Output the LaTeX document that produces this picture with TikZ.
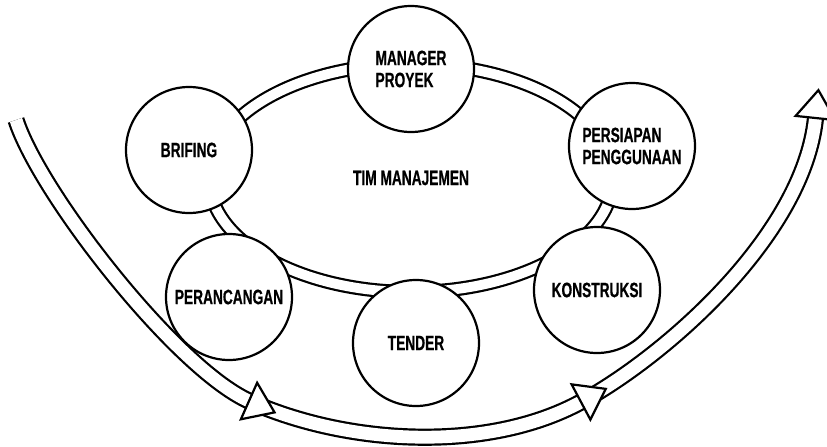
\documentclass[tikz,border=0pt]{standalone}
\usepackage{fontspec}
\newfontfamily\labelfont[FakeStretch=0.66,FakeBold=0.6]{Liberation Sans}
\usetikzlibrary{shapes.geometric}

\begin{document}
\begin{tikzpicture}
[x=0.5pt, y=-0.5pt,
  stageDecorate/.style={shape=circle,draw,fill=white,line width=1.1pt,minimum size=63pt,inner sep=0pt,align=left},%
  ringDecorate/.style={shape=ellipse,draw,line width=1.1pt,double,double distance=4.9pt,minimum width=202pt,minimum height=114pt},%
  bandDecorate/.style={draw,line width=1.1pt,double,double distance=6.4pt},%
  headDecorate/.style={draw,fill=white,line width=1.1pt},%
  font={\labelfont\bfseries\fontsize{10.4}{11}\selectfont}]
\useasboundingbox (0,0) rectangle (827,446);
%% management team ring
\node[ringDecorate] (team) at (411,178) {TIM MANAJEMEN};
%% stages round the ring
\foreach \nodename/\x/\y/\stagetext in {
  manager/411/69/{MANAGER\\PROYEK}, brief/189/150/BRIFING,
  use/632/146/{PERSIAPAN\\PENGGUNAAN}, design/229/297/PERANCANGAN,
  tender/416/343/TENDER, build/597/290/KONSTRUKSI}
{
  \node[stageDecorate] (\nodename) at (\x,\y) {\stagetext};
}
%% process band with hollow heads
\coordinate (start) at (16,120);
\coordinate (h1) at (249,401);
\coordinate (h2) at (581,402);
\coordinate (h3) at (815.5,118);
\draw[bandDecorate] (start) .. controls +(24,74) and +(-73,-33) .. (h1)
  .. controls +(98,44) and +(-94,51) .. (h2)
  .. controls +(83,-45) and +(-12,118) .. (h3);
\foreach \at/\angle in {h1/-24, h2/28, h3/84}
{
  \draw[headDecorate,shift={(\at)},rotate=\angle] (0,20) -- (28,0) -- (0,-20) -- cycle;
}
\end{tikzpicture}
\end{document}
